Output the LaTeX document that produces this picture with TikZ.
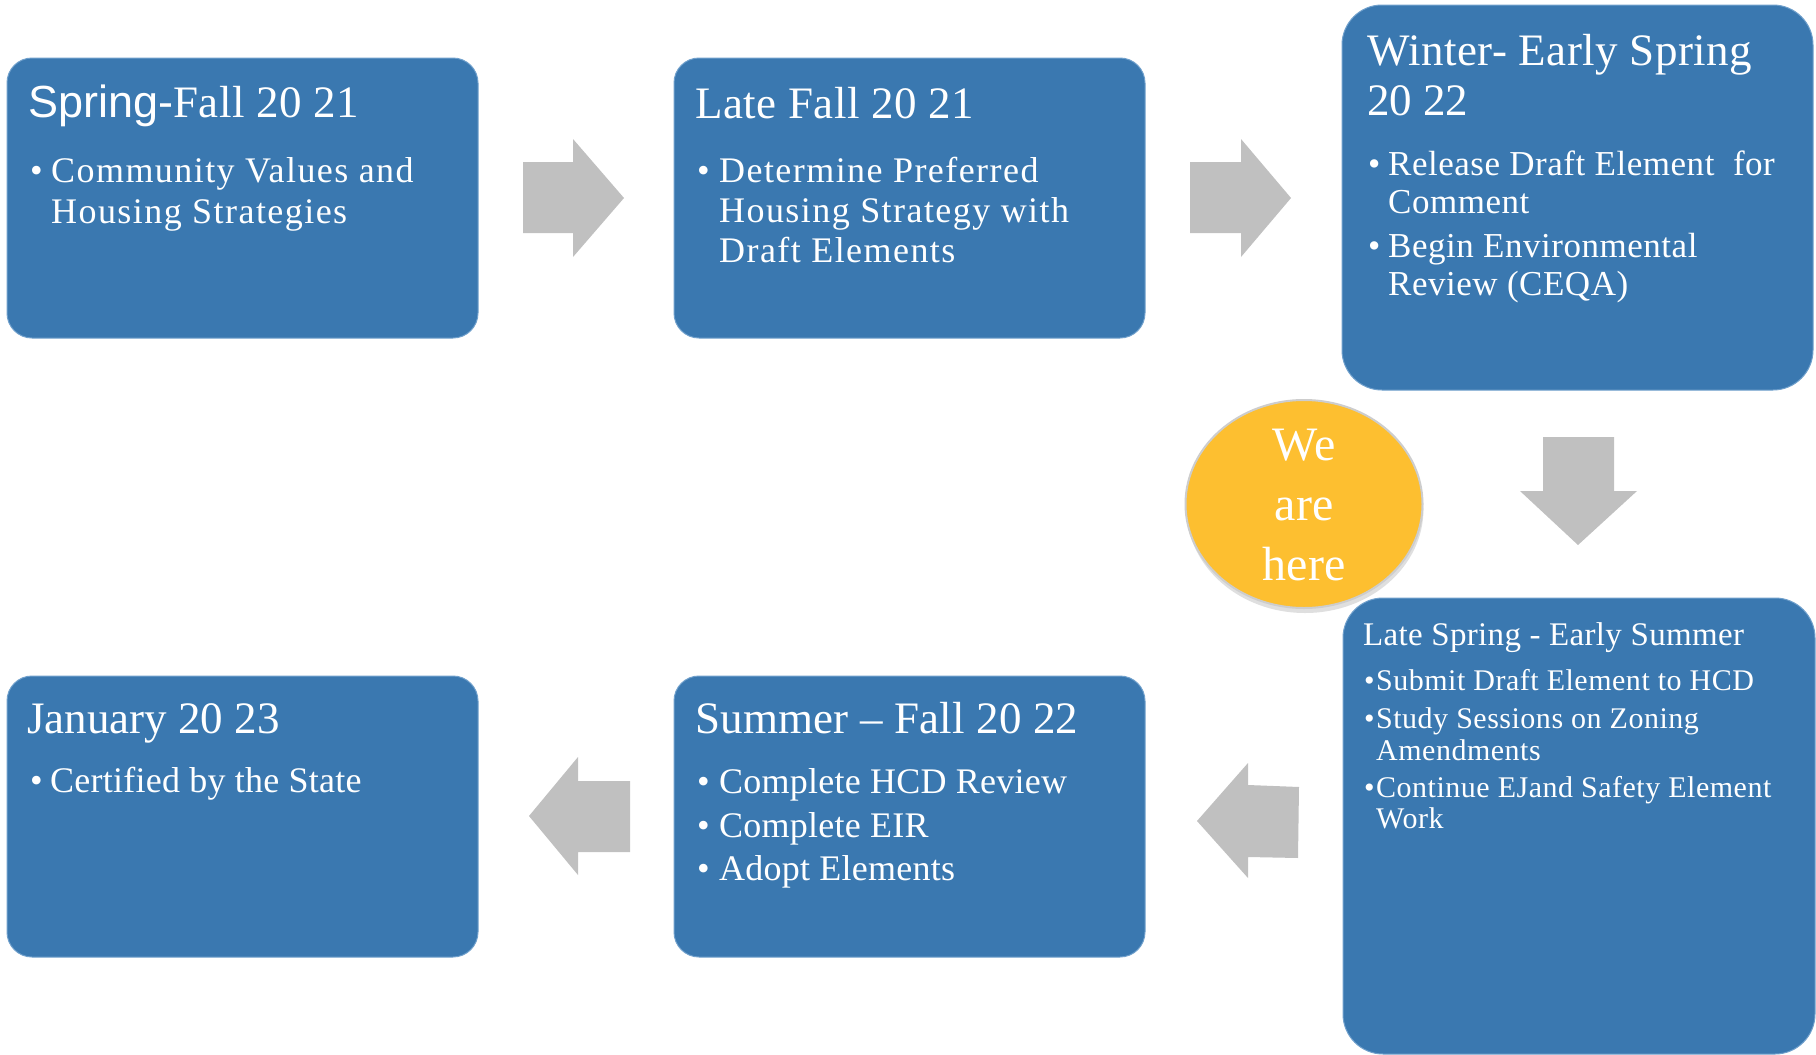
\documentclass[tikz,border=0pt]{standalone}
\usepackage{fontspec}
\setmainfont{Liberation Serif}
\newfontfamily\sansf{Liberation Sans}
\usetikzlibrary{shapes.geometric,shadows}
\definecolor{boxblue}{RGB}{58,120,176}
\definecolor{boxedge}{RGB}{112,160,204}
\definecolor{arrgray}{RGB}{192,192,192}
\definecolor{sun}{RGB}{253,191,48}
\definecolor{sunedge}{RGB}{205,205,205}
\begin{document}
\begin{tikzpicture}[x=1pt,y=-1pt,
  stagebox/.style={draw=boxedge, line width=1pt, fill=boxblue, rounded corners=25pt,
    inner sep=0pt, outer sep=0pt, anchor=north west, minimum width=471pt, minimum height=280pt},
  bigbox/.style={stagebox, rounded corners=40pt},
  ttl/.style={anchor=base west, inner sep=0pt, text=white, font=\fontsize{45}{50}\selectfont},
  itm/.style={anchor=base west, inner sep=0pt, text=white, font=\fontsize{36}{40}\selectfont\addfontfeature{LetterSpace=4}},
  itmb/.style={itm, font=\fontsize{36}{40}\selectfont\addfontfeature{LetterSpace=0.7}},
  itmc/.style={itm, font=\fontsize{35}{40}\selectfont\addfontfeature{LetterSpace=1.5}},
  itms/.style={anchor=base west, inner sep=0pt, text=white, font=\fontsize{30}{34}\selectfont\addfontfeature{LetterSpace=1.7}},
  blockarrow/.style={fill=arrgray},
  herestyle/.style={ellipse, fill=sun, draw=sunedge, line width=2pt, minimum width=237pt, minimum height=208pt,
    inner sep=0pt, drop shadow={opacity=0.25, shadow xshift=1pt, shadow yshift=-5pt}},
  heretxt/.style={anchor=base, inner sep=0pt, text=white, font=\fontsize{48}{54}\selectfont}
]
\useasboundingbox (0,0) rectangle (1816,1055);
\fill[white] (0,0) rectangle (1816,1055);

% boxes
\node[stagebox] (b1) at (7,58) {};
\node[stagebox] (b2) at (674,58) {};
\node[bigbox, minimum height=385pt] (b3) at (1342,5) {};
\node[bigbox, minimum width=472pt, minimum height=456pt] (b4) at (1343,598) {};
\node[stagebox, minimum height=281pt] (b5) at (674,676) {};
\node[stagebox, minimum height=281pt] (b6) at (7,676) {};

% block arrows
\fill[blockarrow] (523,162) -- (573,162) -- (573,139) -- (624,198) -- (573,257) -- (573,233) -- (523,233) -- cycle;
\fill[blockarrow] (1190,162) -- (1241,162) -- (1241,139) -- (1291,198) -- (1241,257) -- (1241,233) -- (1190,233) -- cycle;
\fill[blockarrow] (1543,437) -- (1614,437) -- (1614,491) -- (1637,491) -- (1578,545) -- (1520,491) -- (1543,491) -- cycle;
\fill[blockarrow] (1197,821) -- (1248,763) -- (1248,785) -- (1299,787) -- (1298,858) -- (1248,857) -- (1248,878) -- cycle;
\fill[blockarrow] (529,816) -- (578,757) -- (578,781) -- (630,781) -- (630,852) -- (578,852) -- (578,875) -- cycle;

% we are here
\node[herestyle] (here) at (1304,504) {};
\node[heretxt] (h1) at (1304,460) {We};
\node[heretxt] (h2) at (1304,520) {are};
\node[heretxt] (h3) at (1304,580) {here};

% box 1
\node[ttl, font=\fontsize{45}{50}\selectfont\addfontfeature{LetterSpace=1}] (t1) at (28,117) {{\sansf Spring-}Fall 20 21};
\node[itm] (d11) at (30,182) {•};
\node[itm] (l11) at (51,182) {Community Values and};
\node[itm] (l12) at (51,223) {Housing Strategies};

% box 2
\node[ttl, font=\fontsize{45}{50}\selectfont\addfontfeature{LetterSpace=1}] (t2) at (695,118) {Late Fall 20 21};
\node[itm] (d21) at (697,182) {•};
\node[itm] (l21) at (719,182) {Determine Preferred};
\node[itm] (l22) at (719,222) {Housing Strategy with};
\node[itm] (l23) at (719,262) {Draft Elements};

% box 3
\node[ttl, font=\fontsize{45}{50}\selectfont\addfontfeature{LetterSpace=1}] (t31) at (1367,65) {Winter- Early Spring};
\node[ttl] (t32) at (1367,115) {20 22};
\node[itmc] (d31) at (1368,175) {•};
\node[itmc] (l31) at (1388,175) {Release Draft Element \ for};
\node[itmc] (l32) at (1388,213) {Comment};
\node[itmc] (d32) at (1368,257) {•};
\node[itmc] (l33) at (1388,257) {Begin Environmental};
\node[itmc] (l34) at (1388,295) {Review (CEQA)};

% box 4
\node[anchor=base west, inner sep=0pt, text=white, font=\fontsize{33}{38}\selectfont\addfontfeature{LetterSpace=1}] (t4) at (1363,645) {Late Spring - Early Summer};
\node[itms] (d41) at (1364,690) {•};
\node[itms] (l41) at (1376,690) {Submit Draft Element to HCD};
\node[itms] (d42) at (1364,728) {•};
\node[itms] (l42) at (1376,728) {Study Sessions on Zoning};
\node[itms] (l43) at (1376,760) {Amendments};
\node[itms] (d43) at (1364,797) {•};
\node[itms] (l44) at (1376,797) {Continue EJand Safety Element};
\node[itms] (l45) at (1376,828) {Work};

% box 5
\node[ttl, font=\fontsize{45}{50}\selectfont\addfontfeature{LetterSpace=0.5}] (t5) at (695,733) {Summer – Fall 20 22};
\node[itmb] (d51) at (697,793) {•};
\node[itmb] (l51) at (719,793) {Complete HCD Review};
\node[itmb] (d52) at (697,837) {•};
\node[itmb] (l52) at (719,837) {Complete EIR};
\node[itmb] (d53) at (697,880) {•};
\node[itmb] (l53) at (719,880) {Adopt Elements};

% box 6
\node[ttl] (t6) at (27,733) {January 20 23};
\node[itmb] (d61) at (30,792) {•};
\node[itmb] (l61) at (50,792) {Certified by the State};
\end{tikzpicture}
\end{document}
